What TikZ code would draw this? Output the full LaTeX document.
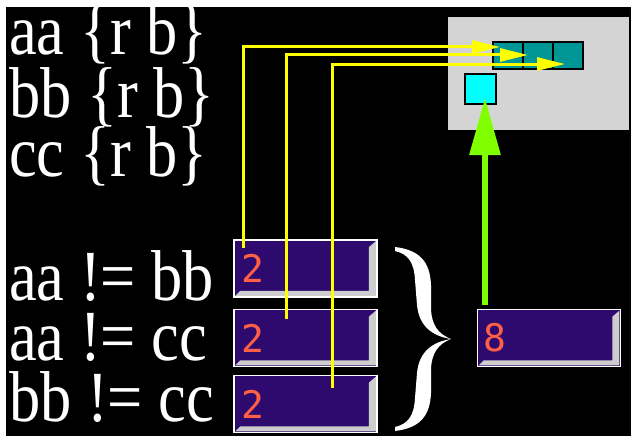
\documentclass[tikz,border=0pt]{standalone}
\usepackage{fontspec}
\setmainfont{Liberation Serif}
\newfontfamily\digitfont{DejaVu Sans Mono}
\usetikzlibrary{arrows.meta,calc}
\definecolor{bggray}{RGB}{212,212,212}
\definecolor{cellteal}{RGB}{0,150,150}
\definecolor{sqcyan}{RGB}{0,255,255}
\definecolor{boxpurple}{RGB}{46,10,110}
\definecolor{bevelgray}{RGB}{205,205,205}
\definecolor{digitred}{RGB}{255,95,70}
\definecolor{ylw}{RGB}{255,255,0}
\definecolor{lime}{RGB}{128,255,0}
\newcommand\mybevel[1]{\fill[bevelgray] ($(#1.north east)+(-2,2)$) -- ($(#1.south east)+(-2,-2)$) -- ($(#1.south west)+(2,-2)$) -- ($(#1.south west)+(7,-7)$) -- ($(#1.south east)+(-9,-7)$) -- ($(#1.north east)+(-9,8)$) -- cycle;}
\newcommand\bigtext[1]{\scalebox{1.04}[1.2]{#1}}
\tikzset{
  lbl/.style={text=white, anchor=base west, inner sep=0pt, font=\fontsize{60}{60}\selectfont},
  cellbox/.style={draw=black, line width=2pt, fill=cellteal, minimum width=30pt, minimum height=27pt, inner sep=0pt},
  valbox/.style={draw=white, line width=1.5pt, fill=boxpurple, minimum width=143pt, minimum height=57pt, inner sep=0pt},
  digit/.style={text=digitred, inner sep=0pt, font=\digitfont\fontsize{38}{38}\selectfont},
  yarrow/.style={draw=ylw, line width=3pt, -{Triangle[length=28pt,width=13pt]}},
  garrow/.style={draw=lime, line width=6pt, -{Triangle[length=57pt,width=30pt]}},
}
\begin{document}
\begin{tikzpicture}[x=1pt,y=-1pt]
\useasboundingbox (0,0) rectangle (639,444);
\fill[white] (0,0) rectangle (639,444);
\fill[black] (6,7) rectangle (631,436);
% left texts
\node[lbl] (t1) at (9,55) {\bigtext{aa \{r b\}}};
\node[lbl] (t2) at (9,117) {\bigtext{bb \{r b\}}};
\node[lbl] (t3) at (9,176) {\bigtext{cc \{r b\}}};
\node[lbl] (t4) at (9,300) {\bigtext{aa !{}= bb}};
\node[lbl] (t5) at (9,360) {\bigtext{aa !{}= cc}};
\node[lbl] (t6) at (9,421) {\bigtext{bb !{}= cc}};
% panel
\node[fill=bggray, minimum width=181pt, minimum height=113pt, inner sep=0pt] (panel) at (538.5,73.5) {};
\node[cellbox] (c1) at (508,55.5) {};
\node[cellbox] (c2) at (538,55.5) {};
\node[cellbox] (c3) at (568,55.5) {};
\node[draw=black, line width=2pt, fill=sqcyan, minimum width=31pt, minimum height=30pt, inner sep=0pt] (q) at (480.5,89) {};
% value boxes
\node[valbox] (b1) at (305.5,268.5) {};
\node[valbox] (b2) at (305.5,338) {};
\node[valbox] (b3) at (305.5,404) {};
\node[valbox] (b8) at (549,338) {};
\mybevel{b1}\mybevel{b2}\mybevel{b3}\mybevel{b8}
\node[digit] (d1) at ([xshift=20pt]b1.west) {2};
\node[digit] (d2) at ([xshift=20pt]b2.west) {2};
\node[digit] (d3) at ([xshift=20pt]b3.west) {2};
\node[digit] (d8) at ([xshift=18pt]b8.west) {8};
% connectors
\coordinate (s1) at (243,248);
\coordinate (s2) at (286,319);
\coordinate (s3) at (332,388);
\coordinate (e1) at (500,47);
\coordinate (e2) at (528,55);
\coordinate (e3) at (565,64);
\draw[yarrow] (s1) |- (e1);
\draw[yarrow] (s2) |- (e2);
\draw[yarrow] (s3) |- (e3);
\coordinate (g0) at (485,305);
\coordinate (g1) at (485,98);
\draw[garrow] (g0) -- (g1);
% brace
\fill[white] (395,247) .. controls (420,250) and (430,262) .. (431,285) -- (431,310) .. controls (432,325) and (438,334) .. (451,339)
  .. controls (438,344) and (432,353) .. (431,368) -- (431,393) .. controls (430,416) and (420,428) .. (395,431)
  -- (395,427) .. controls (408,424) and (414,416) .. (415,398) -- (417,373) .. controls (419,352) and (432,342) .. (451,339)
  .. controls (432,336) and (419,326) .. (417,305) -- (415,280) .. controls (414,262) and (408,254) .. (395,251) -- cycle;
\end{tikzpicture}
\end{document}
